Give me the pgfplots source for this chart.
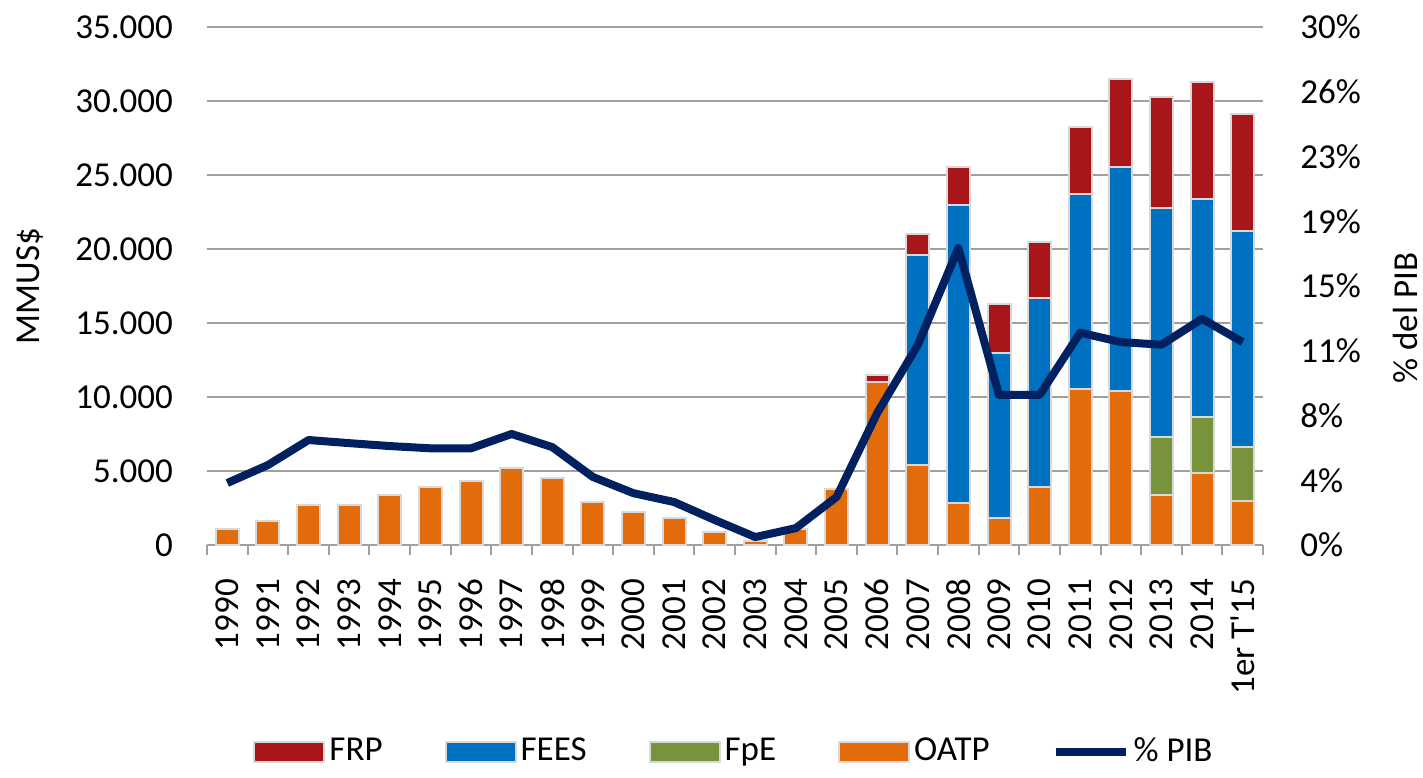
\documentclass[border=0pt]{standalone}
\usepackage{pgfplots}
\usepackage{pgfplotstable}
\pgfplotsset{compat=1.18}
\usepackage{fontspec}
\setmainfont{Carlito}
\definecolor{cfrp}{HTML}{A9161A}
\definecolor{cfees}{HTML}{0070C0}
\definecolor{cfpe}{HTML}{77933C}
\definecolor{coatp}{HTML}{E36C0A}
\definecolor{cpib}{HTML}{002060}
\definecolor{cgrid}{HTML}{A0A0A0}
\definecolor{cbord}{HTML}{D9D9D9}

\pgfplotstableread{
x oatp fpe fees frp pib
0 1100 0 0 0 3.59
1 1600 0 0 0 4.63
2 2700 0 0 0 6.08
3 2700 0 0 0 5.90
4 3400 0 0 0 5.73
5 3900 0 0 0 5.60
6 4300 0 0 0 5.60
7 5200 0 0 0 6.43
8 4500 0 0 0 5.67
9 2900 0 0 0 3.94
10 2200 0 0 0 3.00
11 1800 0 0 0 2.49
12 900 0 0 0 1.45
13 300 0 0 0 0.46
14 1100 0 0 0 0.98
15 3800 0 0 0 2.78
16 11000 0 0 500 7.64
17 5400 0 14200 1400 11.58
18 2850 0 20150 2550 17.20
19 1800 0 11150 3350 8.69
20 3900 0 12800 3750 8.69
21 10550 0 13150 4550 12.30
22 10400 0 15150 5950 11.75
23 3400 3900 15500 7450 11.60
24 4850 3800 14700 7950 13.10
25 3000 3600 14600 7900 11.75
}\datatable

\pgfplotsset{
  barbox/.style={legend image code/.code={\draw[##1, line width=1pt] (0pt,-5pt) rectangle (35pt,5pt);}},
}

\begin{document}
\fontsize{17.5}{21}\selectfont
\begin{tikzpicture}[font=\fontsize{17.5}{21}\selectfont]
\begin{axis}[
  name=ax, at={(0,0)}, anchor=south west,
  scale only axis, width=528pt, height=259pt,
  xmin=-0.5, xmax=25.5, ymin=0, ymax=35000,
  ybar stacked, bar width=11.5pt,
  scaled y ticks=false,
  axis x line*=bottom, axis y line*=left,
  x axis line style={cgrid, line width=1pt, -},
  y axis line style={draw=none},
  xtick={0,...,25},
  xticklabels={1990,1991,1992,1993,1994,1995,1996,1997,1998,1999,2000,2001,2002,2003,2004,2005,2006,2007,2008,2009,2010,2011,2012,2013,2014,{1er T\textquotesingle 15}},
  xticklabel style={rotate=90, anchor=east, xshift=-11pt},
  minor xtick={-0.5,0.5,...,25.5},
  major tick length=0pt, minor tick length=5pt, tick align=outside,
  minor tick style={cgrid, line width=1pt},
  ytick={0,5000,10000,15000,20000,25000,30000,35000},
  yticklabels={0,5.000,10.000,15.000,20.000,25.000,30.000,35.000},
  yticklabel style={xshift=-11pt},
  ymajorgrids, grid style={cgrid, line width=1pt},
  ylabel={MMUS\$},
  ylabel style={at={(axis description cs:0,0.5)}, anchor=center, yshift=88.5pt},
  legend style={draw=none, at={(0.5,-0.3996)}, anchor=center, legend columns=5,
    /tikz/every even column/.append style={column sep=29pt}},
  reverse legend,
]
\addlegendimage{legend image code/.code={\draw[cpib, line width=4pt] (0pt,0pt) -- (35pt,0pt);}}
\addlegendentry{\% PIB}
\addplot[fill=coatp, draw=cbord, line width=1pt, barbox] table[x=x, y=oatp]{\datatable};
\addlegendentry{OATP}
\addplot[fill=cfpe, draw=cbord, line width=1pt, barbox] table[x=x, y=fpe]{\datatable};
\addlegendentry{FpE}
\addplot[fill=cfees, draw=cbord, line width=1pt, barbox] table[x=x, y=fees]{\datatable};
\addlegendentry{FEES}
\addplot[fill=cfrp, draw=cbord, line width=1pt, barbox] table[x=x, y=frp]{\datatable};
\addlegendentry{FRP}
\end{axis}
\begin{axis}[
  at={(ax.south west)}, anchor=south west,
  scale only axis, width=528pt, height=259pt,
  xmin=-0.5, xmax=25.5, ymin=0, ymax=30,
  axis x line=none, axis y line*=right,
  y axis line style={draw=none},
  major tick length=0pt,
  ytick={0,3.75,7.5,11.25,15,18.75,22.5,26.25,30},
  yticklabels={0\%,4\%,8\%,11\%,15\%,19\%,23\%,26\%,30\%},
  yticklabel style={xshift=12.7pt},
  ylabel={\% del PIB},
  ylabel style={at={(axis description cs:1,0.5)}, anchor=center, yshift=-71pt, xshift=-16pt},
]
\addplot[cpib, line width=4pt, line join=round, mark=none] table[x=x, y=pib]{\datatable};
\end{axis}
\pgfresetboundingbox
\path ([xshift=-103.5pt,yshift=-116pt]ax.south west) rectangle ([xshift=80pt,yshift=13.5pt]ax.north east);
\end{tikzpicture}
\end{document}
